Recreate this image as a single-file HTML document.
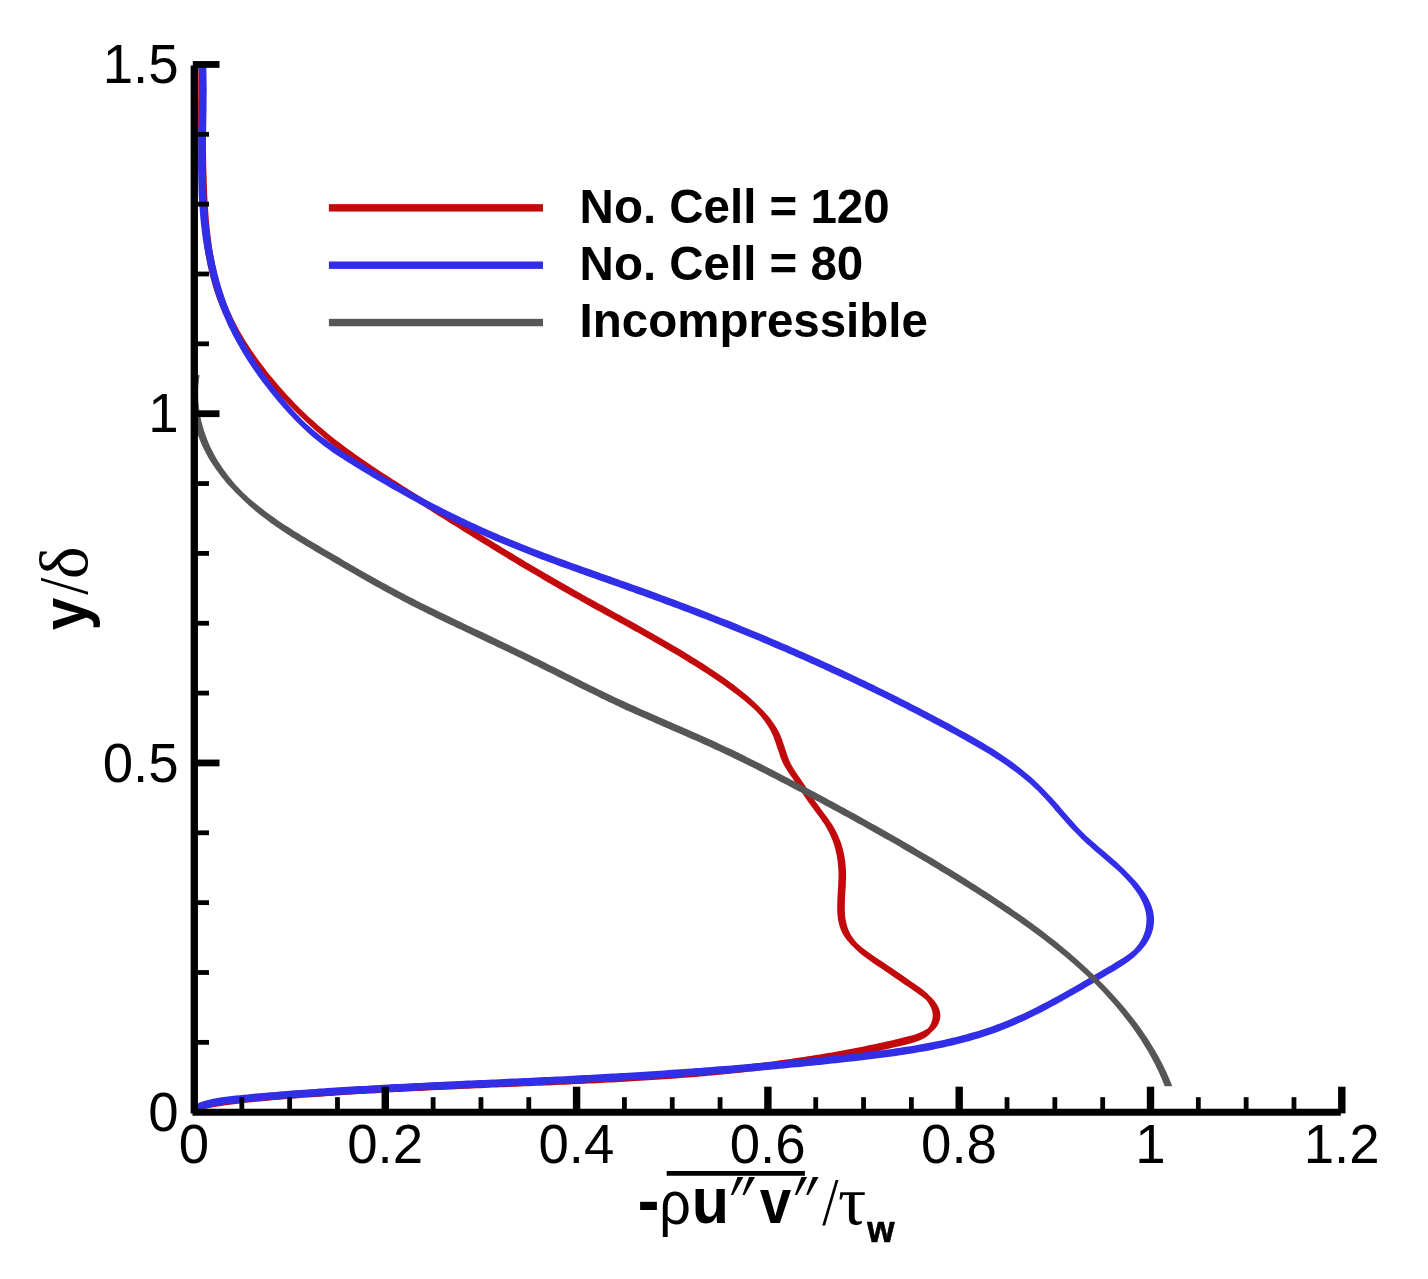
<!DOCTYPE html>
<html lang="en"><head><meta charset="utf-8"><title>Reynolds shear stress profile</title>
<style>
html,body{margin:0;padding:0;background:#fff;}
body{width:1428px;height:1279px;overflow:hidden;}
svg{display:block;}
.tk{font-family:"Liberation Sans",Arial,Helvetica,sans-serif;font-size:55.6px;fill:#000;}
.lg{font-family:"Liberation Sans",Arial,Helvetica,sans-serif;font-size:49px;font-weight:bold;fill:#000;}
.sb{font-family:"Liberation Sans",Arial,Helvetica,sans-serif;font-weight:bold;fill:#000;}
.sr{font-family:"Liberation Sans",Arial,Helvetica,sans-serif;fill:#000;}
.fr{font-family:"Liberation Serif","Times New Roman",serif;fill:#000;}
.fi{font-family:"Liberation Serif","Times New Roman",serif;font-style:italic;fill:#000;}
</style></head><body>
<svg width="1428" height="1279" viewBox="0 0 1428 1279">
<rect x="0" y="0" width="1428" height="1279" fill="#fff"/>
<defs><clipPath id="plot"><rect x="191.00" y="64.45" width="1157.80" height="1047.75"/></clipPath></defs>
<g clip-path="url(#plot)" stroke="none" fill-rule="nonzero">
<path d="M206.0 60.0 L206.0 64.1 L205.9 68.1 L205.9 72.2 L205.9 76.2 L205.8 80.3 L205.8 84.3 L205.8 88.3 L205.8 92.3 L205.8 96.3 L205.7 100.3 L205.7 104.3 L205.7 108.3 L205.7 112.3 L205.7 116.3 L205.7 120.3 L205.7 124.2 L205.7 128.2 L205.8 132.2 L205.8 136.2 L205.8 140.1 L205.9 144.1 L205.9 148.1 L206.0 152.1 L206.1 156.1 L206.1 160.1 L206.2 164.0 L206.3 168.0 L206.4 172.1 L206.6 176.1 L206.7 180.1 L206.8 184.1 L207.0 188.1 L207.1 192.2 L207.3 196.2 L207.5 200.3 L207.8 204.3 L208.0 208.3 L208.3 212.4 L208.6 216.4 L208.9 220.5 L209.3 224.5 L209.7 228.5 L210.1 232.6 L210.6 236.6 L211.1 240.6 L211.6 244.6 L212.2 248.6 L212.8 252.6 L213.5 256.5 L214.3 260.5 L215.0 264.4 L215.9 268.3 L216.8 272.2 L217.7 276.1 L218.7 280.0 L219.8 283.8 L220.9 287.6 L222.1 291.4 L223.4 295.2 L224.7 298.9 L226.1 302.6 L227.6 306.3 L229.1 310.0 L230.8 313.6 L232.5 317.2 L234.2 320.8 L236.0 324.3 L237.9 327.9 L239.8 331.4 L241.8 334.8 L243.8 338.3 L245.9 341.7 L248.1 345.1 L250.3 348.4 L252.5 351.8 L254.8 355.1 L257.1 358.3 L259.5 361.6 L261.9 364.8 L264.4 368.0 L266.8 371.2 L269.4 374.4 L271.9 377.5 L274.5 380.6 L277.1 383.7 L279.7 386.7 L282.4 389.7 L285.0 392.7 L287.7 395.7 L290.5 398.6 L293.2 401.6 L296.0 404.5 L298.8 407.3 L301.6 410.2 L304.5 413.0 L296.9 413.0 L294.0 410.2 L291.2 407.3 L288.4 404.5 L285.6 401.6 L282.9 398.6 L280.1 395.7 L277.4 392.7 L274.8 389.7 L272.1 386.7 L269.5 383.7 L266.9 380.6 L264.3 377.5 L261.8 374.4 L259.2 371.2 L256.8 368.0 L254.3 364.8 L251.9 361.6 L249.5 358.3 L247.2 355.1 L244.9 351.8 L242.7 348.4 L240.5 345.1 L238.3 341.7 L236.2 338.3 L234.2 334.8 L232.2 331.4 L230.3 327.9 L228.4 324.3 L226.6 320.8 L224.9 317.2 L223.2 313.6 L221.5 310.0 L220.0 306.3 L218.5 302.6 L217.1 298.9 L215.8 295.2 L214.5 291.4 L213.3 287.6 L212.2 283.8 L211.1 280.0 L210.1 276.1 L209.2 272.2 L208.3 268.3 L207.4 264.4 L206.7 260.5 L205.9 256.5 L205.2 252.6 L204.6 248.6 L204.0 244.6 L203.5 240.6 L203.0 236.6 L202.5 232.6 L202.1 228.5 L201.7 224.5 L201.3 220.5 L201.0 216.4 L200.7 212.4 L200.4 208.3 L200.2 204.3 L199.9 200.3 L199.7 196.2 L199.5 192.2 L199.4 188.1 L199.2 184.1 L199.1 180.1 L199.0 176.1 L198.8 172.1 L198.7 168.0 L198.6 164.0 L198.5 160.1 L198.5 156.1 L198.4 152.1 L198.3 148.1 L198.3 144.1 L198.2 140.1 L198.2 136.2 L198.2 132.2 L198.1 128.2 L198.1 124.2 L198.1 120.3 L198.1 116.3 L198.1 112.3 L198.1 108.3 L198.1 104.3 L198.1 100.3 L198.2 96.3 L198.2 92.3 L198.2 88.3 L198.2 84.3 L198.2 80.3 L198.3 76.2 L198.3 72.2 L198.3 68.1 L198.4 64.1 L198.4 60.0Z M295.0 403.5 L297.8 406.4 L300.7 409.2 L303.6 411.9 L306.5 414.7 L309.4 417.4 L312.4 420.1 L315.4 422.8 L318.4 425.4 L321.4 428.0 L324.4 430.6 L327.5 433.2 L330.6 435.7 L333.7 438.2 L336.9 440.7 L340.1 443.1 L343.2 445.5 L346.5 447.9 L349.7 450.3 L352.9 452.6 L356.2 455.0 L359.5 457.3 L362.8 459.5 L366.1 461.8 L369.4 464.1 L372.7 466.3 L376.1 468.5 L379.4 470.7 L382.8 472.9 L386.2 475.1 L389.5 477.3 L392.9 479.4 L396.3 481.6 L399.7 483.7 L403.1 485.9 L406.5 488.0 L409.9 490.2 L413.3 492.3 L416.7 494.4 L420.1 496.6 L423.5 498.7 L426.9 500.9 L430.3 503.0 L433.7 505.1 L437.2 507.3 L440.6 509.4 L444.0 511.5 L447.4 513.6 L450.8 515.8 L454.2 517.9 L457.6 520.0 L461.0 522.1 L464.4 524.3 L467.8 526.4 L471.2 528.5 L474.6 530.6 L478.0 532.7 L481.5 534.8 L484.9 536.9 L488.3 539.0 L491.7 541.1 L495.1 543.2 L498.6 545.3 L502.0 547.4 L505.4 549.5 L508.8 551.6 L512.3 553.6 L515.7 555.7 L519.1 557.8 L522.6 559.8 L526.0 561.9 L529.5 563.9 L532.9 566.0 L536.4 568.0 L539.8 570.0 L543.3 572.1 L546.7 574.1 L550.2 576.1 L553.7 578.1 L557.1 580.1 L560.6 582.1 L564.1 584.1 L567.6 586.1 L571.1 588.1 L574.6 590.1 L578.1 592.0 L581.6 594.0 L585.1 595.9 L588.6 597.9 L592.1 599.8 L595.6 601.8 L599.1 603.7 L602.6 605.6 L606.1 607.6 L609.6 609.5 L613.1 611.4 L616.7 613.4 L620.2 615.3 L623.7 617.2 L627.2 619.2 L630.7 621.1 L634.2 623.1 L637.7 625.0 L641.2 627.0 L644.7 628.9 L648.2 630.9 L651.7 632.9 L655.2 634.9 L658.7 636.9 L662.2 638.9 L665.6 640.9 L669.1 642.9 L672.5 644.9 L676.0 647.0 L679.4 649.0 L682.9 651.1 L686.3 653.2 L689.7 655.3 L693.1 657.4 L696.5 659.5 L699.9 661.7 L703.3 663.8 L706.7 666.0 L710.0 668.2 L713.4 670.4 L716.7 672.7 L720.0 674.9 L723.3 677.2 L726.6 679.6 L729.8 681.9 L733.1 684.3 L736.3 686.7 L739.4 689.2 L742.6 691.7 L745.7 694.2 L748.7 696.8 L751.7 699.5 L754.7 702.2 L757.6 705.0 L760.3 707.8 L760.3 715.4 L757.6 712.6 L754.7 709.8 L751.7 707.1 L748.7 704.4 L745.7 701.8 L742.6 699.3 L739.4 696.8 L736.3 694.3 L733.1 691.9 L729.8 689.5 L726.6 687.2 L723.3 684.8 L720.0 682.5 L716.7 680.3 L713.4 678.0 L710.0 675.8 L706.7 673.6 L703.3 671.4 L699.9 669.3 L696.5 667.1 L693.1 665.0 L689.7 662.9 L686.3 660.8 L682.9 658.7 L679.4 656.6 L676.0 654.6 L672.5 652.5 L669.1 650.5 L665.6 648.5 L662.2 646.5 L658.7 644.5 L655.2 642.5 L651.7 640.5 L648.2 638.5 L644.7 636.5 L641.2 634.6 L637.7 632.6 L634.2 630.7 L630.7 628.7 L627.2 626.8 L623.7 624.8 L620.2 622.9 L616.7 621.0 L613.1 619.0 L609.6 617.1 L606.1 615.2 L602.6 613.2 L599.1 611.3 L595.6 609.4 L592.1 607.4 L588.6 605.5 L585.1 603.5 L581.6 601.6 L578.1 599.6 L574.6 597.7 L571.1 595.7 L567.6 593.7 L564.1 591.7 L560.6 589.7 L557.1 587.7 L553.7 585.7 L550.2 583.7 L546.7 581.7 L543.3 579.7 L539.8 577.6 L536.4 575.6 L532.9 573.6 L529.5 571.5 L526.0 569.5 L522.6 567.4 L519.1 565.4 L515.7 563.3 L512.3 561.2 L508.8 559.2 L505.4 557.1 L502.0 555.0 L498.6 552.9 L495.1 550.8 L491.7 548.7 L488.3 546.6 L484.9 544.5 L481.5 542.4 L478.0 540.3 L474.6 538.2 L471.2 536.1 L467.8 534.0 L464.4 531.9 L461.0 529.7 L457.6 527.6 L454.2 525.5 L450.8 523.4 L447.4 521.2 L444.0 519.1 L440.6 517.0 L437.2 514.9 L433.7 512.7 L430.3 510.6 L426.9 508.5 L423.5 506.3 L420.1 504.2 L416.7 502.0 L413.3 499.9 L409.9 497.8 L406.5 495.6 L403.1 493.5 L399.7 491.3 L396.3 489.2 L392.9 487.0 L389.5 484.9 L386.2 482.7 L382.8 480.5 L379.4 478.3 L376.1 476.1 L372.7 473.9 L369.4 471.7 L366.1 469.4 L362.8 467.1 L359.5 464.9 L356.2 462.6 L352.9 460.2 L349.7 457.9 L346.5 455.5 L343.2 453.1 L340.1 450.7 L336.9 448.3 L333.7 445.8 L330.6 443.3 L327.5 440.8 L324.4 438.2 L321.4 435.6 L318.4 433.0 L315.4 430.4 L312.4 427.7 L309.4 425.0 L306.5 422.3 L303.6 419.5 L300.7 416.8 L297.8 414.0 L295.0 411.1Z M758.5 706.0 L761.4 708.8 L764.1 711.6 L766.8 714.5 L769.4 717.6 L771.8 720.7 L774.1 723.9 L776.2 727.2 L778.2 730.7 L779.9 734.2 L781.5 737.9 L782.8 741.7 L784.1 745.6 L785.4 749.5 L786.7 753.3 L788.0 757.2 L789.5 760.9 L791.2 764.6 L793.2 768.1 L795.4 771.4 L797.6 774.7 L799.9 778.0 L802.1 781.3 L804.3 784.6 L806.5 787.9 L808.6 791.2 L810.8 794.5 L813.1 797.9 L815.3 801.2 L817.7 804.5 L820.1 807.8 L822.6 811.2 L825.1 814.5 L827.5 817.8 L829.9 821.2 L832.2 824.6 L834.2 828.1 L836.1 831.6 L837.8 835.1 L839.4 838.7 L840.8 842.3 L842.0 846.0 L843.0 849.7 L843.9 853.5 L844.6 857.3 L845.2 861.2 L845.6 865.1 L845.9 869.0 L846.1 873.1 L846.1 877.2 L845.9 881.3 L845.8 885.4 L845.5 889.6 L845.3 893.8 L845.0 898.0 L844.9 902.1 L844.8 906.2 L844.8 910.3 L845.0 914.3 L845.4 918.2 L846.1 922.0 L847.0 925.7 L848.2 929.3 L849.7 932.7 L851.6 936.0 L853.9 939.2 L856.4 942.3 L859.1 945.2 L862.1 948.0 L854.5 948.0 L851.5 945.2 L848.8 942.3 L846.3 939.2 L844.0 936.0 L842.1 932.7 L840.6 929.3 L839.4 925.7 L838.5 922.0 L837.8 918.2 L837.4 914.3 L837.2 910.3 L837.2 906.2 L837.3 902.1 L837.4 898.0 L837.7 893.8 L837.9 889.6 L838.2 885.4 L838.3 881.3 L838.5 877.2 L838.5 873.1 L838.3 869.0 L838.0 865.1 L837.6 861.2 L837.0 857.3 L836.3 853.5 L835.4 849.7 L834.4 846.0 L833.2 842.3 L831.8 838.7 L830.2 835.1 L828.5 831.6 L826.6 828.1 L824.6 824.6 L822.3 821.2 L819.9 817.8 L817.5 814.5 L815.0 811.2 L812.5 807.8 L810.1 804.5 L807.7 801.2 L805.5 797.9 L803.2 794.5 L801.0 791.2 L798.9 787.9 L796.7 784.6 L794.5 781.3 L792.3 778.0 L790.0 774.7 L787.8 771.4 L785.6 768.1 L783.6 764.6 L781.9 760.9 L780.4 757.2 L779.1 753.3 L777.8 749.5 L776.5 745.6 L775.2 741.7 L773.9 737.9 L772.3 734.2 L770.6 730.7 L768.6 727.2 L766.5 723.9 L764.2 720.7 L761.8 717.6 L759.2 714.5 L756.5 711.6 L753.8 708.8 L750.9 706.0Z M852.6 938.5 L855.3 941.4 L858.3 944.2 L861.5 946.9 L864.8 949.5 L868.2 952.0 L871.6 954.5 L875.1 956.9 L878.6 959.2 L882.1 961.5 L885.4 963.7 L888.7 965.9 L891.9 968.1 L895.1 970.3 L898.2 972.4 L901.3 974.6 L904.5 976.8 L907.7 979.0 L910.9 981.2 L914.2 983.5 L917.7 985.9 L921.1 988.3 L924.5 990.9 L927.7 993.8 L930.6 996.9 L930.6 1004.5 L927.7 1001.4 L924.5 998.5 L921.1 995.9 L917.7 993.5 L914.2 991.1 L910.9 988.8 L907.7 986.6 L904.5 984.4 L901.3 982.2 L898.2 980.0 L895.1 977.9 L891.9 975.7 L888.7 973.5 L885.4 971.3 L882.1 969.1 L878.6 966.8 L875.1 964.5 L871.6 962.1 L868.2 959.6 L864.8 957.1 L861.5 954.5 L858.3 951.8 L855.3 949.0 L852.6 946.1Z M928.3 994.7 L931.5 997.6 L934.4 1000.7 L936.8 1004.2 L938.7 1007.8 L939.9 1011.6 L940.4 1015.4 L940.0 1019.3 L938.8 1022.9 L937.1 1026.2 L934.9 1029.0 L932.3 1031.5 L929.4 1033.6 L921.8 1033.6 L924.7 1031.5 L927.3 1029.0 L929.5 1026.2 L931.2 1022.9 L932.4 1019.3 L932.8 1015.4 L932.3 1011.6 L931.1 1007.8 L929.2 1004.2 L926.8 1000.7 L923.9 997.6 L920.7 994.7Z M931.1 1032.8 L928.5 1035.3 L925.6 1037.4 L922.3 1039.2 L918.9 1040.7 L915.2 1042.0 L911.4 1043.2 L907.5 1044.2 L903.5 1045.2 L899.5 1046.2 L895.5 1047.1 L891.5 1048.0 L887.6 1048.9 L883.6 1049.8 L879.6 1050.7 L875.6 1051.6 L871.6 1052.4 L867.7 1053.2 L863.7 1054.0 L859.7 1054.8 L855.7 1055.6 L851.7 1056.4 L847.7 1057.1 L843.8 1057.9 L839.8 1058.6 L835.8 1059.3 L831.8 1060.0 L827.8 1060.7 L823.8 1061.4 L819.9 1062.0 L815.9 1062.7 L811.9 1063.3 L807.9 1063.9 L803.9 1064.5 L799.9 1065.1 L796.0 1065.7 L792.0 1066.3 L788.0 1066.9 L784.0 1067.4 L780.0 1067.9 L776.0 1068.5 L772.0 1069.0 L768.1 1069.5 L764.1 1070.0 L760.1 1070.5 L756.1 1070.9 L752.1 1071.4 L748.1 1071.8 L744.1 1072.3 L740.2 1072.7 L736.2 1073.1 L732.2 1073.5 L728.2 1073.9 L724.2 1074.3 L720.2 1074.7 L716.2 1075.1 L712.2 1075.5 L708.3 1075.8 L704.3 1076.2 L700.3 1076.5 L696.3 1076.9 L692.3 1077.2 L688.3 1077.5 L684.3 1077.8 L680.3 1078.1 L676.3 1078.4 L672.3 1078.7 L668.4 1079.0 L664.4 1079.3 L660.4 1079.6 L656.4 1079.8 L652.4 1080.1 L648.4 1080.3 L644.4 1080.6 L640.4 1080.8 L636.4 1081.1 L632.4 1081.3 L628.4 1081.5 L624.4 1081.8 L620.4 1082.0 L616.4 1082.2 L612.4 1082.4 L608.4 1082.6 L604.4 1082.8 L600.4 1083.0 L596.4 1083.2 L592.4 1083.4 L588.4 1083.6 L584.4 1083.8 L580.4 1084.0 L576.4 1084.1 L572.4 1084.3 L568.4 1084.5 L564.4 1084.7 L560.4 1084.8 L556.4 1085.0 L552.4 1085.2 L548.4 1085.4 L544.4 1085.5 L540.4 1085.7 L536.4 1085.8 L532.4 1086.0 L528.4 1086.2 L524.4 1086.3 L520.4 1086.5 L516.4 1086.7 L512.4 1086.8 L508.4 1087.0 L504.4 1087.2 L500.3 1087.3 L496.3 1087.5 L492.3 1087.6 L488.3 1087.8 L484.3 1088.0 L480.3 1088.2 L476.3 1088.3 L472.3 1088.5 L468.2 1088.7 L464.2 1088.8 L460.2 1089.0 L456.2 1089.2 L452.2 1089.4 L448.2 1089.6 L444.2 1089.7 L440.1 1089.9 L436.1 1090.1 L432.1 1090.3 L428.1 1090.5 L424.1 1090.7 L420.1 1090.9 L416.0 1091.1 L412.0 1091.3 L408.0 1091.5 L404.0 1091.7 L400.0 1091.9 L396.0 1092.1 L392.0 1092.3 L387.9 1092.5 L383.9 1092.7 L379.9 1093.0 L375.9 1093.2 L371.9 1093.4 L367.9 1093.6 L363.9 1093.9 L359.9 1094.1 L355.8 1094.3 L351.8 1094.6 L347.8 1094.8 L343.8 1095.1 L339.8 1095.3 L335.8 1095.6 L331.8 1095.9 L327.8 1096.1 L323.8 1096.4 L319.8 1096.7 L315.8 1097.0 L311.8 1097.2 L307.8 1097.5 L303.8 1097.8 L299.8 1098.1 L295.8 1098.4 L291.8 1098.7 L287.8 1099.0 L283.8 1099.3 L279.8 1099.7 L275.8 1100.0 L271.8 1100.3 L267.8 1100.7 L263.8 1101.0 L259.8 1101.4 L255.8 1101.8 L251.9 1102.2 L247.9 1102.6 L243.9 1103.1 L239.9 1103.5 L235.9 1104.0 L231.9 1104.5 L228.0 1105.1 L224.0 1105.6 L220.0 1106.2 L216.0 1106.8 L212.0 1107.5 L208.1 1108.2 L204.2 1109.1 L200.3 1110.2 L196.6 1111.7 L193.0 1113.5 L193.0 1105.9 L196.6 1104.1 L200.3 1102.6 L204.2 1101.5 L208.1 1100.6 L212.0 1099.9 L216.0 1099.2 L220.0 1098.6 L224.0 1098.0 L228.0 1097.5 L231.9 1096.9 L235.9 1096.4 L239.9 1095.9 L243.9 1095.5 L247.9 1095.0 L251.9 1094.6 L255.8 1094.2 L259.8 1093.8 L263.8 1093.4 L267.8 1093.1 L271.8 1092.7 L275.8 1092.4 L279.8 1092.1 L283.8 1091.7 L287.8 1091.4 L291.8 1091.1 L295.8 1090.8 L299.8 1090.5 L303.8 1090.2 L307.8 1089.9 L311.8 1089.6 L315.8 1089.4 L319.8 1089.1 L323.8 1088.8 L327.8 1088.5 L331.8 1088.3 L335.8 1088.0 L339.8 1087.7 L343.8 1087.5 L347.8 1087.2 L351.8 1087.0 L355.8 1086.7 L359.9 1086.5 L363.9 1086.3 L367.9 1086.0 L371.9 1085.8 L375.9 1085.6 L379.9 1085.4 L383.9 1085.1 L387.9 1084.9 L392.0 1084.7 L396.0 1084.5 L400.0 1084.3 L404.0 1084.1 L408.0 1083.9 L412.0 1083.7 L416.0 1083.5 L420.1 1083.3 L424.1 1083.1 L428.1 1082.9 L432.1 1082.7 L436.1 1082.5 L440.1 1082.3 L444.2 1082.1 L448.2 1082.0 L452.2 1081.8 L456.2 1081.6 L460.2 1081.4 L464.2 1081.2 L468.2 1081.1 L472.3 1080.9 L476.3 1080.7 L480.3 1080.6 L484.3 1080.4 L488.3 1080.2 L492.3 1080.0 L496.3 1079.9 L500.3 1079.7 L504.4 1079.6 L508.4 1079.4 L512.4 1079.2 L516.4 1079.1 L520.4 1078.9 L524.4 1078.7 L528.4 1078.6 L532.4 1078.4 L536.4 1078.2 L540.4 1078.1 L544.4 1077.9 L548.4 1077.8 L552.4 1077.6 L556.4 1077.4 L560.4 1077.2 L564.4 1077.1 L568.4 1076.9 L572.4 1076.7 L576.4 1076.5 L580.4 1076.4 L584.4 1076.2 L588.4 1076.0 L592.4 1075.8 L596.4 1075.6 L600.4 1075.4 L604.4 1075.2 L608.4 1075.0 L612.4 1074.8 L616.4 1074.6 L620.4 1074.4 L624.4 1074.2 L628.4 1073.9 L632.4 1073.7 L636.4 1073.5 L640.4 1073.2 L644.4 1073.0 L648.4 1072.7 L652.4 1072.5 L656.4 1072.2 L660.4 1072.0 L664.4 1071.7 L668.4 1071.4 L672.3 1071.1 L676.3 1070.8 L680.3 1070.5 L684.3 1070.2 L688.3 1069.9 L692.3 1069.6 L696.3 1069.3 L700.3 1068.9 L704.3 1068.6 L708.3 1068.2 L712.2 1067.9 L716.2 1067.5 L720.2 1067.1 L724.2 1066.7 L728.2 1066.3 L732.2 1065.9 L736.2 1065.5 L740.2 1065.1 L744.1 1064.7 L748.1 1064.2 L752.1 1063.8 L756.1 1063.3 L760.1 1062.9 L764.1 1062.4 L768.1 1061.9 L772.0 1061.4 L776.0 1060.9 L780.0 1060.3 L784.0 1059.8 L788.0 1059.3 L792.0 1058.7 L796.0 1058.1 L799.9 1057.5 L803.9 1056.9 L807.9 1056.3 L811.9 1055.7 L815.9 1055.1 L819.9 1054.4 L823.8 1053.8 L827.8 1053.1 L831.8 1052.4 L835.8 1051.7 L839.8 1051.0 L843.8 1050.3 L847.7 1049.5 L851.7 1048.8 L855.7 1048.0 L859.7 1047.2 L863.7 1046.4 L867.7 1045.6 L871.6 1044.8 L875.6 1044.0 L879.6 1043.1 L883.6 1042.2 L887.6 1041.3 L891.5 1040.4 L895.5 1039.5 L899.5 1038.6 L903.5 1037.6 L907.5 1036.6 L911.4 1035.6 L915.2 1034.4 L918.9 1033.1 L922.3 1031.6 L925.6 1029.8 L928.5 1027.7 L931.1 1025.2Z" fill="#c2090c"/>
<path d="M206.0 60.0 L206.2 64.0 L206.3 68.0 L206.4 72.0 L206.5 76.0 L206.6 80.0 L206.6 84.0 L206.7 88.0 L206.7 92.0 L206.6 96.0 L206.6 100.0 L206.6 104.0 L206.5 108.0 L206.5 112.1 L206.4 116.1 L206.3 120.1 L206.3 124.1 L206.2 128.2 L206.1 132.2 L206.0 136.2 L206.0 140.2 L205.9 144.3 L205.8 148.3 L205.8 152.3 L205.8 156.3 L205.7 160.4 L205.7 164.4 L205.7 168.4 L205.8 172.4 L205.8 176.5 L205.9 180.5 L206.0 184.5 L206.1 188.5 L206.2 192.5 L206.4 196.5 L206.6 200.5 L206.9 204.5 L207.2 208.5 L207.5 212.5 L207.8 216.5 L208.2 220.5 L208.6 224.5 L209.1 228.5 L209.6 232.5 L210.1 236.4 L210.7 240.4 L211.3 244.3 L212.0 248.3 L212.7 252.2 L213.5 256.1 L214.3 260.0 L215.1 263.9 L216.0 267.8 L216.9 271.7 L217.9 275.5 L218.9 279.4 L220.0 283.2 L221.1 287.0 L222.3 290.9 L223.5 294.6 L224.8 298.4 L226.1 302.2 L227.5 305.9 L228.9 309.6 L230.4 313.4 L232.0 317.0 L233.6 320.7 L235.2 324.4 L236.9 328.0 L238.7 331.6 L240.5 335.2 L242.4 338.7 L244.3 342.3 L246.3 345.8 L248.3 349.3 L250.3 352.8 L252.5 356.2 L254.6 359.7 L256.8 363.1 L259.0 366.4 L261.3 369.8 L263.6 373.1 L266.0 376.4 L268.4 379.7 L270.8 382.9 L273.2 386.1 L275.7 389.3 L278.2 392.5 L280.7 395.6 L283.3 398.7 L285.8 401.8 L288.4 404.8 L291.0 407.8 L293.7 410.8 L296.4 413.7 L299.1 416.6 L301.8 419.5 L304.6 422.3 L307.5 425.0 L299.9 425.0 L297.0 422.3 L294.2 419.5 L291.5 416.6 L288.8 413.7 L286.1 410.8 L283.4 407.8 L280.8 404.8 L278.2 401.8 L275.7 398.7 L273.1 395.6 L270.6 392.5 L268.1 389.3 L265.6 386.1 L263.2 382.9 L260.8 379.7 L258.4 376.4 L256.0 373.1 L253.7 369.8 L251.4 366.4 L249.2 363.1 L247.0 359.7 L244.9 356.2 L242.7 352.8 L240.7 349.3 L238.7 345.8 L236.7 342.3 L234.8 338.7 L232.9 335.2 L231.1 331.6 L229.3 328.0 L227.6 324.4 L226.0 320.7 L224.4 317.0 L222.8 313.4 L221.3 309.6 L219.9 305.9 L218.5 302.2 L217.2 298.4 L215.9 294.6 L214.7 290.9 L213.5 287.0 L212.4 283.2 L211.3 279.4 L210.3 275.5 L209.3 271.7 L208.4 267.8 L207.5 263.9 L206.7 260.0 L205.9 256.1 L205.1 252.2 L204.4 248.3 L203.7 244.3 L203.1 240.4 L202.5 236.4 L202.0 232.5 L201.5 228.5 L201.0 224.5 L200.6 220.5 L200.2 216.5 L199.9 212.5 L199.6 208.5 L199.3 204.5 L199.0 200.5 L198.8 196.5 L198.6 192.5 L198.5 188.5 L198.4 184.5 L198.3 180.5 L198.2 176.5 L198.2 172.4 L198.1 168.4 L198.1 164.4 L198.1 160.4 L198.2 156.3 L198.2 152.3 L198.2 148.3 L198.3 144.3 L198.4 140.2 L198.4 136.2 L198.5 132.2 L198.6 128.2 L198.7 124.1 L198.7 120.1 L198.8 116.1 L198.9 112.1 L198.9 108.0 L199.0 104.0 L199.0 100.0 L199.0 96.0 L199.1 92.0 L199.1 88.0 L199.0 84.0 L199.0 80.0 L198.9 76.0 L198.8 72.0 L198.7 68.0 L198.6 64.0 L198.4 60.0Z M298.0 415.7 L300.8 418.5 L303.7 421.2 L306.5 423.9 L309.5 426.6 L312.5 429.2 L315.5 431.7 L318.6 434.2 L321.7 436.7 L324.9 439.1 L328.2 441.5 L331.4 443.8 L334.7 446.1 L338.1 448.3 L341.4 450.5 L344.8 452.7 L348.2 454.9 L351.7 457.0 L355.1 459.1 L358.6 461.2 L362.0 463.3 L365.5 465.4 L368.9 467.5 L372.4 469.6 L375.9 471.6 L379.3 473.7 L382.8 475.7 L386.3 477.7 L389.8 479.8 L393.3 481.8 L396.8 483.7 L400.3 485.7 L403.8 487.7 L407.3 489.6 L410.8 491.6 L414.3 493.5 L417.8 495.4 L421.4 497.3 L424.9 499.2 L428.4 501.1 L432.0 502.9 L435.5 504.8 L439.1 506.6 L442.7 508.4 L446.2 510.2 L449.8 512.0 L453.4 513.8 L457.0 515.6 L460.6 517.3 L464.2 519.0 L467.8 520.7 L471.5 522.4 L475.1 524.1 L478.7 525.8 L482.4 527.4 L486.0 529.1 L489.7 530.7 L493.3 532.3 L497.0 533.8 L500.7 535.4 L504.4 537.0 L508.1 538.5 L511.8 540.0 L515.5 541.5 L519.2 543.0 L522.9 544.5 L526.7 546.0 L530.4 547.4 L534.1 548.9 L537.9 550.3 L541.6 551.8 L545.4 553.2 L549.1 554.6 L552.9 556.0 L556.7 557.4 L560.4 558.8 L564.2 560.1 L568.0 561.5 L571.8 562.9 L575.5 564.2 L579.3 565.6 L583.1 566.9 L586.9 568.3 L590.7 569.6 L594.5 571.0 L598.3 572.3 L602.0 573.7 L605.8 575.0 L609.6 576.3 L613.4 577.7 L617.2 579.0 L621.0 580.4 L624.8 581.7 L628.6 583.1 L632.4 584.4 L636.1 585.8 L639.9 587.1 L643.7 588.5 L647.5 589.8 L651.3 591.2 L655.0 592.6 L658.8 594.0 L662.6 595.4 L666.3 596.8 L670.1 598.2 L673.9 599.6 L677.6 601.0 L681.4 602.4 L685.1 603.8 L688.9 605.2 L692.6 606.7 L696.3 608.1 L700.1 609.6 L703.8 611.0 L707.6 612.5 L711.3 613.9 L715.0 615.4 L718.8 616.9 L722.5 618.4 L726.2 619.8 L729.9 621.3 L733.6 622.8 L737.3 624.3 L741.1 625.9 L744.8 627.4 L748.5 628.9 L752.2 630.4 L755.9 632.0 L759.6 633.5 L763.3 635.1 L767.0 636.6 L770.6 638.2 L774.3 639.8 L778.0 641.3 L781.7 642.9 L785.4 644.5 L789.0 646.1 L792.7 647.7 L796.4 649.3 L800.0 650.9 L803.7 652.5 L807.4 654.2 L811.0 655.8 L814.7 657.4 L818.3 659.1 L822.0 660.7 L825.6 662.4 L829.3 664.1 L832.9 665.8 L836.5 667.4 L840.2 669.1 L843.8 670.8 L847.4 672.5 L851.1 674.2 L854.7 676.0 L858.3 677.7 L861.9 679.4 L865.5 681.1 L869.1 682.9 L872.8 684.6 L876.4 686.4 L880.0 688.2 L883.6 689.9 L887.2 691.7 L890.7 693.5 L894.3 695.3 L897.9 697.1 L901.5 698.9 L905.1 700.7 L908.7 702.6 L912.2 704.4 L915.8 706.2 L919.4 708.1 L922.9 709.9 L926.5 711.8 L930.1 713.7 L933.6 715.6 L937.2 717.4 L940.7 719.3 L944.3 721.2 L947.8 723.1 L951.4 725.1 L954.9 727.0 L958.4 728.9 L962.0 730.9 L965.5 732.8 L969.0 734.8 L972.5 736.8 L976.0 738.8 L979.5 740.8 L982.9 742.8 L986.4 744.9 L989.8 747.0 L993.2 749.1 L996.6 751.3 L999.9 753.5 L1003.2 755.7 L1006.5 758.0 L1009.8 760.3 L1013.0 762.6 L1016.2 765.0 L1019.4 767.4 L1022.5 769.9 L1025.5 772.4 L1028.6 775.0 L1031.6 777.6 L1034.5 780.3 L1037.4 783.0 L1040.2 785.8 L1043.0 788.7 L1043.0 796.3 L1040.2 793.4 L1037.4 790.6 L1034.5 787.9 L1031.6 785.2 L1028.6 782.6 L1025.5 780.0 L1022.5 777.5 L1019.4 775.0 L1016.2 772.6 L1013.0 770.2 L1009.8 767.9 L1006.5 765.6 L1003.2 763.3 L999.9 761.1 L996.6 758.9 L993.2 756.7 L989.8 754.6 L986.4 752.5 L982.9 750.4 L979.5 748.4 L976.0 746.4 L972.5 744.4 L969.0 742.4 L965.5 740.4 L962.0 738.5 L958.4 736.5 L954.9 734.6 L951.4 732.7 L947.8 730.7 L944.3 728.8 L940.7 726.9 L937.2 725.0 L933.6 723.2 L930.1 721.3 L926.5 719.4 L922.9 717.5 L919.4 715.7 L915.8 713.8 L912.2 712.0 L908.7 710.2 L905.1 708.3 L901.5 706.5 L897.9 704.7 L894.3 702.9 L890.7 701.1 L887.2 699.3 L883.6 697.5 L880.0 695.8 L876.4 694.0 L872.8 692.2 L869.1 690.5 L865.5 688.7 L861.9 687.0 L858.3 685.3 L854.7 683.6 L851.1 681.8 L847.4 680.1 L843.8 678.4 L840.2 676.7 L836.5 675.0 L832.9 673.4 L829.3 671.7 L825.6 670.0 L822.0 668.3 L818.3 666.7 L814.7 665.0 L811.0 663.4 L807.4 661.8 L803.7 660.1 L800.0 658.5 L796.4 656.9 L792.7 655.3 L789.0 653.7 L785.4 652.1 L781.7 650.5 L778.0 648.9 L774.3 647.4 L770.6 645.8 L767.0 644.2 L763.3 642.7 L759.6 641.1 L755.9 639.6 L752.2 638.0 L748.5 636.5 L744.8 635.0 L741.1 633.5 L737.3 631.9 L733.6 630.4 L729.9 628.9 L726.2 627.4 L722.5 626.0 L718.8 624.5 L715.0 623.0 L711.3 621.5 L707.6 620.1 L703.8 618.6 L700.1 617.2 L696.3 615.7 L692.6 614.3 L688.9 612.8 L685.1 611.4 L681.4 610.0 L677.6 608.6 L673.9 607.2 L670.1 605.8 L666.3 604.4 L662.6 603.0 L658.8 601.6 L655.0 600.2 L651.3 598.8 L647.5 597.4 L643.7 596.1 L639.9 594.7 L636.1 593.4 L632.4 592.0 L628.6 590.7 L624.8 589.3 L621.0 588.0 L617.2 586.6 L613.4 585.3 L609.6 583.9 L605.8 582.6 L602.0 581.3 L598.3 579.9 L594.5 578.6 L590.7 577.2 L586.9 575.9 L583.1 574.5 L579.3 573.2 L575.5 571.8 L571.8 570.5 L568.0 569.1 L564.2 567.7 L560.4 566.4 L556.7 565.0 L552.9 563.6 L549.1 562.2 L545.4 560.8 L541.6 559.4 L537.9 557.9 L534.1 556.5 L530.4 555.0 L526.7 553.6 L522.9 552.1 L519.2 550.6 L515.5 549.1 L511.8 547.6 L508.1 546.1 L504.4 544.6 L500.7 543.0 L497.0 541.4 L493.3 539.9 L489.7 538.3 L486.0 536.7 L482.4 535.0 L478.7 533.4 L475.1 531.7 L471.5 530.0 L467.8 528.3 L464.2 526.6 L460.6 524.9 L457.0 523.2 L453.4 521.4 L449.8 519.6 L446.2 517.8 L442.7 516.0 L439.1 514.2 L435.5 512.4 L432.0 510.5 L428.4 508.7 L424.9 506.8 L421.4 504.9 L417.8 503.0 L414.3 501.1 L410.8 499.2 L407.3 497.2 L403.8 495.3 L400.3 493.3 L396.8 491.3 L393.3 489.4 L389.8 487.4 L386.3 485.3 L382.8 483.3 L379.3 481.3 L375.9 479.2 L372.4 477.2 L368.9 475.1 L365.5 473.0 L362.0 470.9 L358.6 468.8 L355.1 466.7 L351.7 464.6 L348.2 462.5 L344.8 460.3 L341.4 458.1 L338.1 455.9 L334.7 453.7 L331.4 451.4 L328.2 449.1 L324.9 446.7 L321.7 444.3 L318.6 441.8 L315.5 439.3 L312.5 436.8 L309.5 434.2 L306.5 431.5 L303.7 428.8 L300.8 426.1 L298.0 423.3Z M1041.2 786.8 L1044.0 789.6 L1046.8 792.5 L1049.6 795.4 L1052.3 798.3 L1055.0 801.3 L1057.7 804.3 L1060.3 807.3 L1062.9 810.4 L1065.6 813.4 L1068.2 816.4 L1070.9 819.4 L1073.6 822.4 L1076.2 825.4 L1079.0 828.4 L1081.7 831.3 L1084.5 834.1 L1087.3 836.9 L1079.7 836.9 L1076.9 834.1 L1074.1 831.3 L1071.4 828.4 L1068.6 825.4 L1066.0 822.4 L1063.3 819.4 L1060.6 816.4 L1058.0 813.4 L1055.3 810.4 L1052.7 807.3 L1050.1 804.3 L1047.4 801.3 L1044.7 798.3 L1042.0 795.4 L1039.2 792.5 L1036.4 789.6 L1033.6 786.8Z M1077.9 827.5 L1080.7 830.3 L1083.5 833.1 L1086.4 835.9 L1089.4 838.5 L1092.4 841.2 L1095.4 843.8 L1098.4 846.4 L1101.4 849.0 L1104.5 851.6 L1107.5 854.2 L1110.6 856.8 L1113.6 859.4 L1116.7 862.1 L1119.7 864.9 L1122.6 867.7 L1125.5 870.6 L1125.5 878.2 L1122.6 875.3 L1119.7 872.5 L1116.7 869.7 L1113.6 867.0 L1110.6 864.4 L1107.5 861.8 L1104.5 859.2 L1101.4 856.6 L1098.4 854.0 L1095.4 851.4 L1092.4 848.8 L1089.4 846.1 L1086.4 843.5 L1083.5 840.7 L1080.7 837.9 L1077.9 835.1Z M1123.5 868.7 L1126.4 871.5 L1129.3 874.4 L1132.2 877.4 L1135.0 880.4 L1137.8 883.6 L1140.4 886.9 L1142.9 890.2 L1145.2 893.6 L1147.4 897.1 L1149.3 900.7 L1150.9 904.3 L1152.2 908.0 L1153.2 911.7 L1153.8 915.4 L1154.1 919.2 L1153.9 922.9 L1153.5 926.7 L1152.7 930.4 L1151.5 934.0 L1150.1 937.5 L1148.3 940.8 L1146.3 944.1 L1144.0 947.1 L1141.4 950.0 L1138.7 952.7 L1135.7 955.2 L1128.1 955.2 L1131.1 952.7 L1133.8 950.0 L1136.4 947.1 L1138.7 944.1 L1140.7 940.8 L1142.5 937.5 L1143.9 934.0 L1145.1 930.4 L1145.9 926.7 L1146.3 922.9 L1146.5 919.2 L1146.2 915.4 L1145.6 911.7 L1144.6 908.0 L1143.3 904.3 L1141.7 900.7 L1139.8 897.1 L1137.6 893.6 L1135.3 890.2 L1132.8 886.9 L1130.2 883.6 L1127.4 880.4 L1124.6 877.4 L1121.7 874.4 L1118.8 871.5 L1115.9 868.7Z M1137.6 953.8 L1134.9 956.5 L1131.9 959.0 L1128.7 961.5 L1125.5 963.8 L1122.1 966.1 L1118.6 968.2 L1115.0 970.4 L1111.5 972.5 L1107.9 974.6 L1104.3 976.7 L1100.7 978.8 L1097.2 980.9 L1093.6 983.0 L1090.1 985.1 L1086.5 987.1 L1083.0 989.2 L1079.4 991.3 L1075.9 993.3 L1072.4 995.3 L1068.8 997.3 L1065.3 999.3 L1061.8 1001.3 L1058.2 1003.3 L1054.7 1005.2 L1051.1 1007.1 L1047.6 1009.0 L1044.0 1010.9 L1040.5 1012.7 L1036.9 1014.6 L1033.3 1016.3 L1029.8 1018.1 L1026.2 1019.8 L1022.6 1021.5 L1018.9 1023.1 L1015.3 1024.7 L1011.7 1026.3 L1008.0 1027.8 L1004.3 1029.3 L1000.6 1030.8 L996.9 1032.2 L993.2 1033.5 L989.5 1034.8 L985.7 1036.1 L981.9 1037.3 L978.2 1038.5 L974.4 1039.6 L970.6 1040.7 L966.7 1041.8 L962.9 1042.8 L959.0 1043.8 L955.2 1044.8 L951.3 1045.7 L947.4 1046.6 L943.5 1047.5 L939.6 1048.3 L935.7 1049.1 L931.8 1049.9 L927.8 1050.7 L923.9 1051.4 L919.9 1052.1 L916.0 1052.8 L912.0 1053.5 L908.0 1054.1 L904.1 1054.7 L900.1 1055.3 L896.1 1055.9 L892.1 1056.5 L888.1 1057.0 L884.1 1057.5 L880.1 1058.1 L876.1 1058.6 L872.1 1059.1 L868.1 1059.5 L864.1 1060.0 L860.1 1060.5 L856.1 1060.9 L852.1 1061.4 L848.0 1061.8 L844.0 1062.3 L840.0 1062.7 L836.0 1063.2 L832.0 1063.6 L828.0 1064.0 L824.0 1064.4 L820.0 1064.9 L816.0 1065.3 L812.0 1065.7 L808.0 1066.1 L804.0 1066.5 L800.0 1066.9 L796.0 1067.3 L792.0 1067.6 L788.0 1068.0 L784.0 1068.4 L780.0 1068.8 L776.0 1069.2 L772.0 1069.5 L768.0 1069.9 L764.0 1070.2 L760.1 1070.6 L756.1 1070.9 L752.1 1071.3 L748.1 1071.6 L744.1 1072.0 L740.1 1072.3 L736.1 1072.6 L732.1 1073.0 L728.1 1073.3 L724.1 1073.6 L720.1 1073.9 L716.1 1074.2 L712.2 1074.5 L708.2 1074.9 L704.2 1075.2 L700.2 1075.5 L696.2 1075.7 L692.2 1076.0 L688.2 1076.3 L684.2 1076.6 L680.2 1076.9 L676.2 1077.2 L672.2 1077.4 L668.3 1077.7 L664.3 1078.0 L660.3 1078.3 L656.3 1078.5 L652.3 1078.8 L648.3 1079.0 L644.3 1079.3 L640.3 1079.5 L636.3 1079.8 L632.3 1080.0 L628.3 1080.3 L624.3 1080.5 L620.3 1080.7 L616.3 1081.0 L612.3 1081.2 L608.3 1081.4 L604.3 1081.7 L600.3 1081.9 L596.3 1082.1 L592.3 1082.3 L588.3 1082.5 L584.3 1082.7 L580.3 1082.9 L576.3 1083.1 L572.3 1083.4 L568.3 1083.6 L564.3 1083.8 L560.3 1084.0 L556.3 1084.2 L552.3 1084.3 L548.3 1084.5 L544.3 1084.7 L540.2 1084.9 L536.2 1085.1 L532.2 1085.3 L528.2 1085.5 L524.2 1085.7 L520.2 1085.9 L516.2 1086.0 L512.2 1086.2 L508.2 1086.4 L504.1 1086.6 L500.1 1086.8 L496.1 1087.0 L492.1 1087.1 L488.1 1087.3 L484.1 1087.5 L480.1 1087.7 L476.1 1087.9 L472.0 1088.1 L468.0 1088.2 L464.0 1088.4 L460.0 1088.6 L456.0 1088.8 L452.0 1089.0 L448.0 1089.2 L443.9 1089.4 L439.9 1089.5 L435.9 1089.7 L431.9 1089.9 L427.9 1090.1 L423.9 1090.3 L419.9 1090.5 L415.9 1090.7 L411.8 1090.9 L407.8 1091.1 L403.8 1091.3 L399.8 1091.5 L395.8 1091.7 L391.8 1091.9 L387.8 1092.1 L383.8 1092.4 L379.8 1092.6 L375.8 1092.8 L371.8 1093.0 L367.8 1093.3 L363.8 1093.5 L359.7 1093.7 L355.7 1093.9 L351.7 1094.2 L347.7 1094.4 L343.7 1094.7 L339.7 1094.9 L335.7 1095.2 L331.7 1095.4 L327.7 1095.7 L323.7 1096.0 L319.7 1096.2 L315.7 1096.5 L311.8 1096.8 L307.8 1097.0 L303.8 1097.3 L299.8 1097.6 L295.8 1097.9 L291.8 1098.2 L287.8 1098.5 L283.8 1098.8 L279.8 1099.2 L275.8 1099.5 L271.8 1099.8 L267.8 1100.2 L263.8 1100.5 L259.8 1100.9 L255.8 1101.2 L251.8 1101.6 L247.8 1102.0 L243.8 1102.4 L239.8 1102.8 L235.8 1103.2 L231.8 1103.6 L227.8 1104.1 L223.8 1104.6 L219.9 1105.2 L215.9 1105.9 L212.0 1106.7 L208.1 1107.7 L204.3 1108.7 L200.5 1109.9 L196.7 1111.3 L193.0 1112.8 L193.0 1105.2 L196.7 1103.7 L200.5 1102.3 L204.3 1101.1 L208.1 1100.1 L212.0 1099.1 L215.9 1098.3 L219.9 1097.6 L223.8 1097.0 L227.8 1096.5 L231.8 1096.0 L235.8 1095.6 L239.8 1095.2 L243.8 1094.8 L247.8 1094.4 L251.8 1094.0 L255.8 1093.6 L259.8 1093.3 L263.8 1092.9 L267.8 1092.6 L271.8 1092.2 L275.8 1091.9 L279.8 1091.6 L283.8 1091.2 L287.8 1090.9 L291.8 1090.6 L295.8 1090.3 L299.8 1090.0 L303.8 1089.7 L307.8 1089.4 L311.8 1089.2 L315.7 1088.9 L319.7 1088.6 L323.7 1088.4 L327.7 1088.1 L331.7 1087.8 L335.7 1087.6 L339.7 1087.3 L343.7 1087.1 L347.7 1086.8 L351.7 1086.6 L355.7 1086.3 L359.7 1086.1 L363.8 1085.9 L367.8 1085.7 L371.8 1085.4 L375.8 1085.2 L379.8 1085.0 L383.8 1084.8 L387.8 1084.5 L391.8 1084.3 L395.8 1084.1 L399.8 1083.9 L403.8 1083.7 L407.8 1083.5 L411.8 1083.3 L415.9 1083.1 L419.9 1082.9 L423.9 1082.7 L427.9 1082.5 L431.9 1082.3 L435.9 1082.1 L439.9 1081.9 L443.9 1081.8 L448.0 1081.6 L452.0 1081.4 L456.0 1081.2 L460.0 1081.0 L464.0 1080.8 L468.0 1080.6 L472.0 1080.5 L476.1 1080.3 L480.1 1080.1 L484.1 1079.9 L488.1 1079.7 L492.1 1079.5 L496.1 1079.4 L500.1 1079.2 L504.1 1079.0 L508.2 1078.8 L512.2 1078.6 L516.2 1078.4 L520.2 1078.3 L524.2 1078.1 L528.2 1077.9 L532.2 1077.7 L536.2 1077.5 L540.2 1077.3 L544.3 1077.1 L548.3 1076.9 L552.3 1076.7 L556.3 1076.6 L560.3 1076.4 L564.3 1076.2 L568.3 1076.0 L572.3 1075.8 L576.3 1075.5 L580.3 1075.3 L584.3 1075.1 L588.3 1074.9 L592.3 1074.7 L596.3 1074.5 L600.3 1074.3 L604.3 1074.1 L608.3 1073.8 L612.3 1073.6 L616.3 1073.4 L620.3 1073.1 L624.3 1072.9 L628.3 1072.7 L632.3 1072.4 L636.3 1072.2 L640.3 1071.9 L644.3 1071.7 L648.3 1071.4 L652.3 1071.2 L656.3 1070.9 L660.3 1070.7 L664.3 1070.4 L668.3 1070.1 L672.2 1069.8 L676.2 1069.6 L680.2 1069.3 L684.2 1069.0 L688.2 1068.7 L692.2 1068.4 L696.2 1068.1 L700.2 1067.9 L704.2 1067.6 L708.2 1067.3 L712.2 1066.9 L716.1 1066.6 L720.1 1066.3 L724.1 1066.0 L728.1 1065.7 L732.1 1065.4 L736.1 1065.0 L740.1 1064.7 L744.1 1064.4 L748.1 1064.0 L752.1 1063.7 L756.1 1063.3 L760.1 1063.0 L764.0 1062.6 L768.0 1062.3 L772.0 1061.9 L776.0 1061.6 L780.0 1061.2 L784.0 1060.8 L788.0 1060.4 L792.0 1060.0 L796.0 1059.7 L800.0 1059.3 L804.0 1058.9 L808.0 1058.5 L812.0 1058.1 L816.0 1057.7 L820.0 1057.3 L824.0 1056.8 L828.0 1056.4 L832.0 1056.0 L836.0 1055.6 L840.0 1055.1 L844.0 1054.7 L848.0 1054.2 L852.1 1053.8 L856.1 1053.3 L860.1 1052.9 L864.1 1052.4 L868.1 1051.9 L872.1 1051.5 L876.1 1051.0 L880.1 1050.5 L884.1 1049.9 L888.1 1049.4 L892.1 1048.9 L896.1 1048.3 L900.1 1047.7 L904.1 1047.1 L908.0 1046.5 L912.0 1045.9 L916.0 1045.2 L919.9 1044.5 L923.9 1043.8 L927.8 1043.1 L931.8 1042.3 L935.7 1041.5 L939.6 1040.7 L943.5 1039.9 L947.4 1039.0 L951.3 1038.1 L955.2 1037.2 L959.0 1036.2 L962.9 1035.2 L966.7 1034.2 L970.6 1033.1 L974.4 1032.0 L978.2 1030.9 L981.9 1029.7 L985.7 1028.5 L989.5 1027.2 L993.2 1025.9 L996.9 1024.6 L1000.6 1023.2 L1004.3 1021.7 L1008.0 1020.2 L1011.7 1018.7 L1015.3 1017.1 L1018.9 1015.5 L1022.6 1013.9 L1026.2 1012.2 L1029.8 1010.5 L1033.3 1008.7 L1036.9 1007.0 L1040.5 1005.1 L1044.0 1003.3 L1047.6 1001.4 L1051.1 999.5 L1054.7 997.6 L1058.2 995.7 L1061.8 993.7 L1065.3 991.7 L1068.8 989.7 L1072.4 987.7 L1075.9 985.7 L1079.4 983.7 L1083.0 981.6 L1086.5 979.5 L1090.1 977.5 L1093.6 975.4 L1097.2 973.3 L1100.7 971.2 L1104.3 969.1 L1107.9 967.0 L1111.5 964.9 L1115.0 962.8 L1118.6 960.6 L1122.1 958.5 L1125.5 956.2 L1128.7 953.9 L1131.9 951.4 L1134.9 948.9 L1137.6 946.2Z" fill="#322de6"/>
<path d="M199.6 375.0 L199.0 379.2 L198.6 383.3 L198.3 387.4 L198.2 391.5 L198.2 395.6 L198.3 399.7 L198.6 403.7 L199.0 407.7 L199.5 411.7 L200.2 415.6 L201.0 419.6 L201.9 423.4 L203.0 427.3 L204.1 431.1 L205.4 434.8 L206.8 438.6 L208.3 442.2 L209.9 445.9 L211.6 449.4 L213.4 453.0 L215.3 456.4 L217.3 459.9 L219.4 463.2 L221.6 466.6 L223.8 469.8 L226.2 473.0 L228.6 476.2 L231.1 479.3 L233.7 482.4 L236.3 485.4 L239.0 488.3 L241.8 491.2 L244.6 494.0 L247.4 496.8 L239.8 496.8 L237.0 494.0 L234.2 491.2 L231.4 488.3 L228.7 485.4 L226.1 482.4 L223.5 479.3 L221.0 476.2 L218.6 473.0 L216.2 469.8 L214.0 466.6 L211.8 463.2 L209.7 459.9 L207.7 456.4 L205.8 453.0 L204.0 449.4 L202.3 445.9 L200.7 442.2 L199.2 438.6 L197.8 434.8 L196.5 431.1 L195.4 427.3 L194.3 423.4 L193.4 419.6 L192.6 415.6 L191.9 411.7 L191.4 407.7 L191.0 403.7 L190.7 399.7 L190.6 395.6 L190.6 391.5 L190.7 387.4 L191.0 383.3 L191.4 379.2 L192.0 375.0Z M238.0 487.4 L240.8 490.2 L243.6 493.0 L246.6 495.7 L249.5 498.4 L252.5 501.0 L255.6 503.6 L258.7 506.1 L261.9 508.6 L265.0 511.0 L268.3 513.4 L271.5 515.8 L274.8 518.1 L278.1 520.4 L281.4 522.7 L284.8 524.9 L288.2 527.1 L291.6 529.3 L295.0 531.5 L298.5 533.6 L301.9 535.7 L305.4 537.8 L308.9 539.9 L312.4 542.0 L315.8 544.1 L319.3 546.1 L322.8 548.2 L326.3 550.2 L329.8 552.2 L333.3 554.3 L336.8 556.3 L340.3 558.3 L343.7 560.4 L347.2 562.4 L350.7 564.4 L354.2 566.4 L357.6 568.4 L361.1 570.4 L364.6 572.4 L368.1 574.4 L371.5 576.3 L375.0 578.3 L378.5 580.2 L382.0 582.2 L385.5 584.1 L389.0 586.0 L392.5 587.9 L396.1 589.8 L399.6 591.7 L403.1 593.6 L406.7 595.4 L410.2 597.3 L413.8 599.1 L417.4 600.9 L420.9 602.7 L424.5 604.5 L428.1 606.3 L431.7 608.0 L435.3 609.8 L438.9 611.6 L442.5 613.3 L446.2 615.1 L449.8 616.8 L453.4 618.5 L457.0 620.3 L460.7 622.0 L464.3 623.7 L467.9 625.4 L471.6 627.2 L475.2 628.9 L478.8 630.6 L482.5 632.3 L486.1 634.1 L489.7 635.8 L493.4 637.5 L497.0 639.3 L500.6 641.0 L504.2 642.7 L507.9 644.5 L511.5 646.2 L515.1 648.0 L518.7 649.7 L522.4 651.5 L526.0 653.2 L529.6 655.0 L533.2 656.8 L536.8 658.5 L540.4 660.3 L544.0 662.1 L547.6 663.9 L551.2 665.7 L554.8 667.5 L558.4 669.3 L562.0 671.1 L565.6 672.9 L569.1 674.7 L572.7 676.5 L576.3 678.3 L579.9 680.1 L583.5 681.9 L587.1 683.7 L590.7 685.5 L594.3 687.2 L597.9 689.0 L601.5 690.8 L605.1 692.5 L608.8 694.3 L612.4 696.0 L616.0 697.7 L619.7 699.4 L623.3 701.1 L626.9 702.8 L630.6 704.4 L634.3 706.1 L637.9 707.7 L641.6 709.4 L645.3 711.0 L648.9 712.6 L652.6 714.2 L656.3 715.8 L660.0 717.4 L663.7 719.1 L667.3 720.7 L671.0 722.3 L674.7 723.9 L678.4 725.5 L682.1 727.1 L685.8 728.7 L689.4 730.3 L693.1 731.9 L696.8 733.5 L700.5 735.2 L704.1 736.8 L707.8 738.4 L711.5 740.1 L715.1 741.8 L718.8 743.5 L722.4 745.2 L726.0 746.9 L729.7 748.6 L733.3 750.3 L736.9 752.1 L740.5 753.8 L744.1 755.6 L747.7 757.4 L751.3 759.2 L754.9 761.0 L758.5 762.8 L762.1 764.6 L765.7 766.4 L769.2 768.3 L772.8 770.1 L776.4 771.9 L779.9 773.8 L783.5 775.7 L787.1 777.5 L790.6 779.4 L794.2 781.3 L797.7 783.1 L801.3 785.0 L804.8 786.9 L808.4 788.8 L811.9 790.7 L815.5 792.6 L819.0 794.4 L822.5 796.3 L826.1 798.3 L829.6 800.2 L833.1 802.1 L836.7 804.0 L840.2 805.9 L843.7 807.8 L847.3 809.7 L850.8 811.7 L854.3 813.6 L857.8 815.6 L861.3 817.5 L864.8 819.5 L868.3 821.4 L871.8 823.4 L875.3 825.3 L878.8 827.3 L882.3 829.3 L885.8 831.3 L889.3 833.2 L892.8 835.2 L896.3 837.2 L899.8 839.2 L903.2 841.3 L906.7 843.3 L910.2 845.3 L913.7 847.3 L917.1 849.4 L920.6 851.4 L924.0 853.4 L927.5 855.5 L930.9 857.6 L934.4 859.6 L937.8 861.7 L941.2 863.8 L944.7 865.9 L948.1 868.0 L951.5 870.1 L955.0 872.2 L958.4 874.3 L961.8 876.4 L965.2 878.6 L968.6 880.7 L972.0 882.9 L975.4 885.0 L978.8 887.2 L982.2 889.4 L985.5 891.5 L988.9 893.7 L992.3 895.9 L995.6 898.2 L999.0 900.4 L1002.3 902.6 L1005.7 904.9 L1009.0 907.1 L1012.3 909.4 L1015.6 911.7 L1018.9 914.0 L1022.2 916.3 L1025.5 918.6 L1028.7 921.0 L1032.0 923.3 L1035.2 925.7 L1038.5 928.1 L1041.7 930.5 L1044.9 932.9 L1048.0 935.4 L1051.2 937.9 L1054.3 940.3 L1057.5 942.8 L1060.6 945.4 L1063.7 947.9 L1066.7 950.5 L1069.8 953.1 L1072.8 955.7 L1075.8 958.3 L1078.8 961.0 L1081.8 963.7 L1084.8 966.4 L1087.7 969.1 L1090.6 971.9 L1093.5 974.6 L1096.3 977.4 L1099.2 980.3 L1099.2 987.9 L1096.3 985.0 L1093.5 982.2 L1090.6 979.5 L1087.7 976.7 L1084.8 974.0 L1081.8 971.3 L1078.8 968.6 L1075.8 965.9 L1072.8 963.3 L1069.8 960.7 L1066.7 958.1 L1063.7 955.5 L1060.6 953.0 L1057.5 950.4 L1054.3 947.9 L1051.2 945.5 L1048.0 943.0 L1044.9 940.5 L1041.7 938.1 L1038.5 935.7 L1035.2 933.3 L1032.0 930.9 L1028.7 928.6 L1025.5 926.2 L1022.2 923.9 L1018.9 921.6 L1015.6 919.3 L1012.3 917.0 L1009.0 914.7 L1005.7 912.5 L1002.3 910.2 L999.0 908.0 L995.6 905.8 L992.3 903.5 L988.9 901.3 L985.5 899.1 L982.2 897.0 L978.8 894.8 L975.4 892.6 L972.0 890.5 L968.6 888.3 L965.2 886.2 L961.8 884.0 L958.4 881.9 L955.0 879.8 L951.5 877.7 L948.1 875.6 L944.7 873.5 L941.2 871.4 L937.8 869.3 L934.4 867.2 L930.9 865.2 L927.5 863.1 L924.0 861.0 L920.6 859.0 L917.1 857.0 L913.7 854.9 L910.2 852.9 L906.7 850.9 L903.2 848.9 L899.8 846.8 L896.3 844.8 L892.8 842.8 L889.3 840.8 L885.8 838.9 L882.3 836.9 L878.8 834.9 L875.3 832.9 L871.8 831.0 L868.3 829.0 L864.8 827.1 L861.3 825.1 L857.8 823.2 L854.3 821.2 L850.8 819.3 L847.3 817.3 L843.7 815.4 L840.2 813.5 L836.7 811.6 L833.1 809.7 L829.6 807.8 L826.1 805.9 L822.5 803.9 L819.0 802.0 L815.5 800.2 L811.9 798.3 L808.4 796.4 L804.8 794.5 L801.3 792.6 L797.7 790.7 L794.2 788.9 L790.6 787.0 L787.1 785.1 L783.5 783.3 L779.9 781.4 L776.4 779.5 L772.8 777.7 L769.2 775.9 L765.7 774.0 L762.1 772.2 L758.5 770.4 L754.9 768.6 L751.3 766.8 L747.7 765.0 L744.1 763.2 L740.5 761.4 L736.9 759.7 L733.3 757.9 L729.7 756.2 L726.0 754.5 L722.4 752.8 L718.8 751.1 L715.1 749.4 L711.5 747.7 L707.8 746.0 L704.1 744.4 L700.5 742.8 L696.8 741.1 L693.1 739.5 L689.4 737.9 L685.8 736.3 L682.1 734.7 L678.4 733.1 L674.7 731.5 L671.0 729.9 L667.3 728.3 L663.7 726.7 L660.0 725.0 L656.3 723.4 L652.6 721.8 L648.9 720.2 L645.3 718.6 L641.6 717.0 L637.9 715.3 L634.3 713.7 L630.6 712.0 L626.9 710.4 L623.3 708.7 L619.7 707.0 L616.0 705.3 L612.4 703.6 L608.8 701.9 L605.1 700.1 L601.5 698.4 L597.9 696.6 L594.3 694.8 L590.7 693.1 L587.1 691.3 L583.5 689.5 L579.9 687.7 L576.3 685.9 L572.7 684.1 L569.1 682.3 L565.6 680.5 L562.0 678.7 L558.4 676.9 L554.8 675.1 L551.2 673.3 L547.6 671.5 L544.0 669.7 L540.4 667.9 L536.8 666.1 L533.2 664.4 L529.6 662.6 L526.0 660.8 L522.4 659.1 L518.7 657.3 L515.1 655.6 L511.5 653.8 L507.9 652.1 L504.2 650.3 L500.6 648.6 L497.0 646.9 L493.4 645.1 L489.7 643.4 L486.1 641.7 L482.5 639.9 L478.8 638.2 L475.2 636.5 L471.6 634.8 L467.9 633.0 L464.3 631.3 L460.7 629.6 L457.0 627.9 L453.4 626.1 L449.8 624.4 L446.2 622.7 L442.5 620.9 L438.9 619.2 L435.3 617.4 L431.7 615.6 L428.1 613.9 L424.5 612.1 L420.9 610.3 L417.4 608.5 L413.8 606.7 L410.2 604.9 L406.7 603.0 L403.1 601.2 L399.6 599.3 L396.1 597.4 L392.5 595.5 L389.0 593.6 L385.5 591.7 L382.0 589.8 L378.5 587.8 L375.0 585.9 L371.5 583.9 L368.1 582.0 L364.6 580.0 L361.1 578.0 L357.6 576.0 L354.2 574.0 L350.7 572.0 L347.2 570.0 L343.7 568.0 L340.3 565.9 L336.8 563.9 L333.3 561.9 L329.8 559.8 L326.3 557.8 L322.8 555.8 L319.3 553.7 L315.8 551.7 L312.4 549.6 L308.9 547.5 L305.4 545.4 L301.9 543.3 L298.5 541.2 L295.0 539.1 L291.6 536.9 L288.2 534.7 L284.8 532.5 L281.4 530.3 L278.1 528.0 L274.8 525.7 L271.5 523.4 L268.3 521.0 L265.0 518.6 L261.9 516.2 L258.7 513.7 L255.6 511.2 L252.5 508.6 L249.5 506.0 L246.6 503.3 L243.6 500.6 L240.8 497.8 L238.0 495.0Z M1097.3 978.4 L1100.1 981.2 L1103.0 984.1 L1105.8 986.9 L1108.5 989.8 L1111.3 992.8 L1114.0 995.7 L1116.7 998.7 L1119.4 1001.7 L1122.0 1004.7 L1124.6 1007.8 L1127.2 1010.9 L1129.7 1014.0 L1132.2 1017.2 L1134.7 1020.4 L1137.1 1023.6 L1139.5 1026.8 L1141.8 1030.1 L1144.1 1033.4 L1146.4 1036.7 L1148.6 1040.1 L1150.7 1043.4 L1152.8 1046.9 L1154.9 1050.3 L1156.9 1053.8 L1158.8 1057.3 L1160.7 1060.8 L1162.6 1064.3 L1164.3 1067.9 L1166.1 1071.5 L1167.7 1075.2 L1169.3 1078.8 L1170.8 1082.5 L1172.3 1086.2 L1164.7 1086.2 L1163.2 1082.5 L1161.7 1078.8 L1160.1 1075.2 L1158.5 1071.5 L1156.7 1067.9 L1155.0 1064.3 L1153.1 1060.8 L1151.2 1057.3 L1149.3 1053.8 L1147.3 1050.3 L1145.2 1046.9 L1143.1 1043.4 L1141.0 1040.1 L1138.8 1036.7 L1136.5 1033.4 L1134.2 1030.1 L1131.9 1026.8 L1129.5 1023.6 L1127.1 1020.4 L1124.6 1017.2 L1122.1 1014.0 L1119.6 1010.9 L1117.0 1007.8 L1114.4 1004.7 L1111.8 1001.7 L1109.1 998.7 L1106.4 995.7 L1103.7 992.8 L1100.9 989.8 L1098.2 986.9 L1095.4 984.1 L1092.5 981.2 L1089.7 978.4Z" fill="#565656"/>
</g>
<g stroke="#000" fill="none" stroke-linecap="butt">
<line x1="241.82" y1="1112.20" x2="241.82" y2="1097.20" stroke-width="4.80"/>
<line x1="289.65" y1="1112.20" x2="289.65" y2="1097.20" stroke-width="4.80"/>
<line x1="337.48" y1="1112.20" x2="337.48" y2="1097.20" stroke-width="4.80"/>
<line x1="433.12" y1="1112.20" x2="433.12" y2="1097.20" stroke-width="4.80"/>
<line x1="480.95" y1="1112.20" x2="480.95" y2="1097.20" stroke-width="4.80"/>
<line x1="528.78" y1="1112.20" x2="528.78" y2="1097.20" stroke-width="4.80"/>
<line x1="624.42" y1="1112.20" x2="624.42" y2="1097.20" stroke-width="4.80"/>
<line x1="672.25" y1="1112.20" x2="672.25" y2="1097.20" stroke-width="4.80"/>
<line x1="720.08" y1="1112.20" x2="720.08" y2="1097.20" stroke-width="4.80"/>
<line x1="815.73" y1="1112.20" x2="815.73" y2="1097.20" stroke-width="4.80"/>
<line x1="863.55" y1="1112.20" x2="863.55" y2="1097.20" stroke-width="4.80"/>
<line x1="911.38" y1="1112.20" x2="911.38" y2="1097.20" stroke-width="4.80"/>
<line x1="1007.03" y1="1112.20" x2="1007.03" y2="1097.20" stroke-width="4.80"/>
<line x1="1054.85" y1="1112.20" x2="1054.85" y2="1097.20" stroke-width="4.80"/>
<line x1="1102.68" y1="1112.20" x2="1102.68" y2="1097.20" stroke-width="4.80"/>
<line x1="1198.33" y1="1112.20" x2="1198.33" y2="1097.20" stroke-width="4.80"/>
<line x1="1246.15" y1="1112.20" x2="1246.15" y2="1097.20" stroke-width="4.80"/>
<line x1="1293.98" y1="1112.20" x2="1293.98" y2="1097.20" stroke-width="4.80"/>
<line x1="385.30" y1="1112.20" x2="385.30" y2="1086.70" stroke-width="7.40"/>
<line x1="576.60" y1="1112.20" x2="576.60" y2="1086.70" stroke-width="7.40"/>
<line x1="767.90" y1="1112.20" x2="767.90" y2="1086.70" stroke-width="7.40"/>
<line x1="959.20" y1="1112.20" x2="959.20" y2="1086.70" stroke-width="7.40"/>
<line x1="1150.50" y1="1112.20" x2="1150.50" y2="1086.70" stroke-width="7.40"/>
<line x1="1341.80" y1="1113.40" x2="1341.80" y2="1086.70" stroke-width="7.40"/>
<line x1="194.00" y1="1042.35" x2="209.00" y2="1042.35" stroke-width="4.80"/>
<line x1="194.00" y1="972.50" x2="209.00" y2="972.50" stroke-width="4.80"/>
<line x1="194.00" y1="902.65" x2="209.00" y2="902.65" stroke-width="4.80"/>
<line x1="194.00" y1="832.80" x2="209.00" y2="832.80" stroke-width="4.80"/>
<line x1="194.00" y1="693.10" x2="209.00" y2="693.10" stroke-width="4.80"/>
<line x1="194.00" y1="623.25" x2="209.00" y2="623.25" stroke-width="4.80"/>
<line x1="194.00" y1="553.40" x2="209.00" y2="553.40" stroke-width="4.80"/>
<line x1="194.00" y1="483.55" x2="209.00" y2="483.55" stroke-width="4.80"/>
<line x1="194.00" y1="343.85" x2="209.00" y2="343.85" stroke-width="4.80"/>
<line x1="194.00" y1="274.00" x2="209.00" y2="274.00" stroke-width="4.80"/>
<line x1="194.00" y1="204.15" x2="209.00" y2="204.15" stroke-width="4.80"/>
<line x1="194.00" y1="134.30" x2="209.00" y2="134.30" stroke-width="4.80"/>
<line x1="194.00" y1="762.95" x2="219.50" y2="762.95" stroke-width="6.80"/>
<line x1="194.00" y1="413.70" x2="219.50" y2="413.70" stroke-width="6.80"/>
<line x1="192.80" y1="64.45" x2="219.50" y2="64.45" stroke-width="6.80"/>
<line x1="194.30" y1="65.45" x2="194.30" y2="1113.40" stroke-width="7.30"/>
<line x1="192.50" y1="1112.20" x2="1340.80" y2="1112.20" stroke-width="7.00"/>
</g>
<text class="tk" transform="translate(193.80 1163.00) scale(0.9820 1)" text-anchor="middle">0</text>
<text class="tk" transform="translate(385.10 1163.00) scale(0.9820 1)" text-anchor="middle">0.2</text>
<text class="tk" transform="translate(576.40 1163.00) scale(0.9820 1)" text-anchor="middle">0.4</text>
<text class="tk" transform="translate(767.70 1163.00) scale(0.9820 1)" text-anchor="middle">0.6</text>
<text class="tk" transform="translate(959.00 1163.00) scale(0.9820 1)" text-anchor="middle">0.8</text>
<text class="tk" transform="translate(1150.30 1163.00) scale(0.9820 1)" text-anchor="middle">1</text>
<text class="tk" transform="translate(1341.60 1163.00) scale(0.9820 1)" text-anchor="middle">1.2</text>
<text class="tk" transform="translate(178.60 1130.80) scale(0.9820 1)" text-anchor="end">0</text>
<text class="tk" transform="translate(178.60 781.55) scale(0.9820 1)" text-anchor="end">0.5</text>
<text class="tk" transform="translate(178.60 432.30) scale(0.9820 1)" text-anchor="end">1</text>
<text class="tk" transform="translate(178.60 83.05) scale(0.9820 1)" text-anchor="end">1.5</text>
<rect x="328.90" y="204.15" width="214.10" height="7.4" fill="#c2090c"/>
<text class="lg" transform="translate(579.62 223.00) scale(0.9690 1)">No. Cell = 120</text>
<rect x="328.90" y="261.50" width="214.10" height="7.4" fill="#322de6"/>
<text class="lg" transform="translate(579.62 280.10) scale(0.9690 1)">No. Cell = 80</text>
<rect x="328.90" y="318.85" width="214.10" height="7.4" fill="#565656"/>
<text class="lg" transform="translate(579.62 337.20) scale(0.9690 1)">Incompressible</text>
<g>
<text class="sb" transform="translate(637.52 1224.35) scale(0.9614 1)" font-size="68.83">-</text>
<text class="sr" transform="translate(659.22 1224.18) scale(0.8992 1)" font-size="61.79">ρ</text>
<text class="sb" transform="translate(691.81 1223.38) scale(0.9555 1)" font-size="63.93">u</text>
<text class="fi" transform="translate(714.38 1226.70) skewX(-16.00) scale(0.8077 1)" font-size="76.21">″</text>
<text class="sb" transform="translate(759.68 1223.20) scale(0.8924 1)" font-size="63.41">v</text>
<text class="fi" transform="translate(778.49 1226.70) skewX(-16.00) scale(0.7950 1)" font-size="76.21">″</text>
<text class="fr" transform="translate(822.30 1223.73) scale(0.8498 1)" font-size="68.62">/</text>
<text class="fr" transform="translate(838.05 1223.72) scale(1.0155 1)" font-size="69.33">τ</text>
<text class="sb" transform="translate(867.20 1241.60) scale(0.9436 1)" font-size="37.10" stroke="#000" stroke-width="0.7">w</text>
<line x1="666.7" y1="1173.4" x2="804.9" y2="1173.4" stroke="#000" stroke-width="4.9"/>
</g>
<g transform="translate(87.2 631) rotate(-90)">
<text class="sb" transform="translate(0.74 -0.60) scale(0.9101 1)" font-size="64.55">y</text>
<text class="fr" transform="translate(36.20 -0.18) scale(0.8816 1)" font-size="69.81">/</text>
<text class="fr" transform="translate(51.77 -0.16) scale(1.0390 1)" font-size="67.33">δ</text>
</g>
</svg>
</body></html>
